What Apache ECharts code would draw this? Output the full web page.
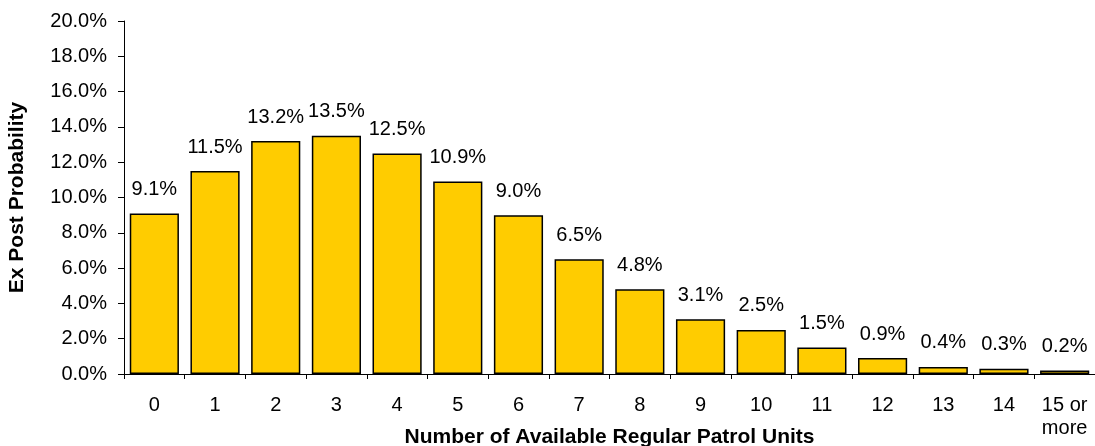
<!DOCTYPE html>
<html>
<head>
<meta charset="utf-8">
<script src="https://cdn.jsdelivr.net/npm/echarts@6/dist/echarts.min.js"></script>
<style>
  html, body { margin: 0; padding: 0; background: #fff; }
  #box { width: 1095px; height: 446px; }
</style>
</head>
<body>
<div id="box"></div>
<script>
var categories = ['0', '1', '2', '3', '4', '5', '6', '7', '8', '9', '10', '11', '12', '13', '14', '15 or\nmore'];
var probs = [9.1, 11.5, 13.2, 13.5, 12.5, 10.9, 9.0, 6.5, 4.8, 3.1, 2.5, 1.5, 0.9, 0.4, 0.3, 0.2];

var myChart = echarts.init(document.getElementById('box'));
var font = 'Liberation Sans, Arial, sans-serif';
var option = {
    animation: false,
    textStyle: { fontFamily: font },
    grid: { left: 124, right: 0, top: 21, bottom: 72, outerBoundsMode: 'none' },
    xAxis: {
        type: 'category',
        data: categories,
        name: 'Number of Available Regular Patrol Units',
        nameLocation: 'middle',
        nameGap: 53,
        nameMoveOverlap: false,
        nameTextStyle: { fontFamily: font, fontWeight: 'bold', fontSize: 21, color: '#000' },
        axisLine: { lineStyle: { color: '#000', width: 1 } },
        axisTick: { show: true, length: 5, interval: 0, lineStyle: { color: '#000' } },
        axisLabel: { interval: 0, margin: 20, fontSize: 20, color: '#000', lineHeight: 23, fontFamily: font }
    },
    yAxis: {
        type: 'value',
        min: 0,
        max: 20,
        interval: 2,
        name: 'Ex Post Probability',
        nameLocation: 'middle',
        nameGap: 96,
        nameMoveOverlap: false,
        nameTextStyle: { fontFamily: font, fontWeight: 'bold', fontSize: 21, color: '#000' },
        axisLine: { show: true, lineStyle: { color: '#000', width: 1 } },
        axisTick: { show: true, length: 6, lineStyle: { color: '#000' } },
        splitLine: { show: false },
        axisLabel: {
            fontSize: 20, color: '#000', margin: 17, fontFamily: font,
            formatter: function (v) { return v.toFixed(1) + '%'; }
        }
    },
    series: [
        {
            name: 'Probability',
            type: 'bar',
            data: probs,
            barCategoryGap: '19%',
            itemStyle: { color: '#FFCC00', borderColor: '#000', borderWidth: 1.5 },
            label: {
                show: true,
                position: 'top',
                distance: 14,
                fontSize: 20,
                color: '#000',
                fontFamily: font,
                formatter: function (p) { return p.value.toFixed(1) + '%'; }
            }
        }
    ]
};
myChart.setOption(option);
</script>
</body>
</html>
